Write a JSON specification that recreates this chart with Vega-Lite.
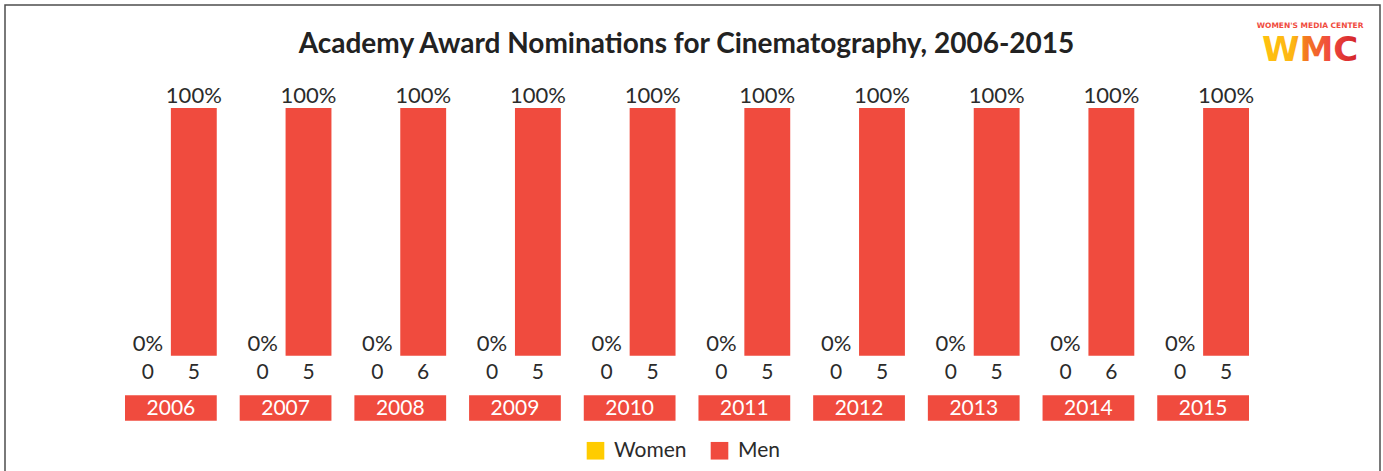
{
  "$schema": "https://vega.github.io/schema/vega-lite/v6.json",
  "autosize": {"type": "none"},
  "width": 1375,
  "height": 470,
  "padding": {"left": 5, "top": 5, "right": 3, "bottom": 0},
  "background": "white",
  "config": {
    "font": "Lato",
    "view": {"stroke": "#4d4d4d", "strokeWidth": 1.5},
    "text": {"font": "Lato", "color": "#2b2b2b"}
  },
  "title": {
    "text": "Academy Award Nominations for Cinematography, 2006-2015",
    "font": "Lato",
    "fontSize": 28,
    "fontWeight": "bold",
    "color": "#222222",
    "anchor": "middle",
    "frame": "group",
    "offset": -54,
    "dx": -6
  },
  "data": {
    "values": [
      {"year": "2006", "gender": "Women", "count": 0, "pct": 0},
      {"year": "2006", "gender": "Men", "count": 5, "pct": 1},
      {"year": "2007", "gender": "Women", "count": 0, "pct": 0},
      {"year": "2007", "gender": "Men", "count": 5, "pct": 1},
      {"year": "2008", "gender": "Women", "count": 0, "pct": 0},
      {"year": "2008", "gender": "Men", "count": 6, "pct": 1},
      {"year": "2009", "gender": "Women", "count": 0, "pct": 0},
      {"year": "2009", "gender": "Men", "count": 5, "pct": 1},
      {"year": "2010", "gender": "Women", "count": 0, "pct": 0},
      {"year": "2010", "gender": "Men", "count": 5, "pct": 1},
      {"year": "2011", "gender": "Women", "count": 0, "pct": 0},
      {"year": "2011", "gender": "Men", "count": 5, "pct": 1},
      {"year": "2012", "gender": "Women", "count": 0, "pct": 0},
      {"year": "2012", "gender": "Men", "count": 5, "pct": 1},
      {"year": "2013", "gender": "Women", "count": 0, "pct": 0},
      {"year": "2013", "gender": "Men", "count": 5, "pct": 1},
      {"year": "2014", "gender": "Women", "count": 0, "pct": 0},
      {"year": "2014", "gender": "Men", "count": 6, "pct": 1},
      {"year": "2015", "gender": "Women", "count": 0, "pct": 0},
      {"year": "2015", "gender": "Men", "count": 5, "pct": 1}
    ]
  },
  "layer": [
    {
      "mark": {"type": "bar"},
      "encoding": {
        "x": {
          "field": "year", "type": "nominal", "axis": null,
          "scale": {"range": [120, 1244], "paddingInner": 0.2, "paddingOuter": 0, "round": false}
        },
        "xOffset": {
          "field": "gender", "type": "nominal",
          "sort": ["Women", "Men"],
          "scale": {"paddingInner": 0, "paddingOuter": 0}
        },
        "y": {
          "field": "pct", "type": "quantitative", "axis": null,
          "scale": {"domain": [-0.4816, 1.4159], "nice": false, "zero": false}
        },
        "color": {
          "field": "gender", "type": "nominal",
          "sort": ["Women", "Men"],
          "scale": {"domain": ["Women", "Men"], "range": ["#FFCC00", "#F04B3E"]},
          "legend": {
            "title": null,
            "orient": "none",
            "legendX": 580,
            "legendY": 435,
            "direction": "horizontal",
            "symbolType": "square",
            "symbolSize": 310,
            "symbolStrokeWidth": 0,
            "symbolOpacity": 1,
            "labelFont": "Lato",
            "labelFontSize": 21,
            "labelColor": "#2b2b2b",
            "labelOffset": 8,
            "columnPadding": 22
          }
        }
      }
    },
    {
      "transform": [{"filter": "datum.gender === 'Men'"}],
      "mark": {"type": "bar", "color": "#F04B3E"},
      "encoding": {
        "x": {"field": "year", "type": "nominal"},
        "y": {"datum": -0.16},
        "y2": {"datum": -0.2624}
      }
    },
    {
      "mark": {"type": "text", "baseline": "alphabetic", "dy": -5, "fontSize": 22, "color": "#2b2b2b"},
      "encoding": {
        "x": {"field": "year", "type": "nominal"},
        "xOffset": {"field": "gender", "type": "nominal", "sort": ["Women", "Men"]},
        "y": {"field": "pct", "type": "quantitative"},
        "text": {"field": "pct", "type": "quantitative", "format": ".0%"}
      }
    },
    {
      "mark": {"type": "text", "baseline": "alphabetic", "fontSize": 21, "color": "#2b2b2b"},
      "encoding": {
        "x": {"field": "year", "type": "nominal"},
        "xOffset": {"field": "gender", "type": "nominal", "sort": ["Women", "Men"]},
        "y": {"datum": -0.0953},
        "text": {"field": "count", "type": "quantitative"}
      }
    },
    {
      "transform": [{"filter": "datum.gender === 'Men'"}],
      "mark": {"type": "text", "baseline": "alphabetic", "fontSize": 21, "color": "white"},
      "encoding": {
        "x": {"field": "year", "type": "nominal"},
        "y": {"datum": -0.2394},
        "text": {"field": "year", "type": "nominal"}
      }
    },
    {
      "data": {"values": [{"label": "WOMEN'S MEDIA CENTER"}]},
      "mark": {"type": "text", "baseline": "alphabetic", "font": "DejaVu Sans", "fontWeight": "bold", "fontSize": 7.5, "color": "#F04B3E", "dx": 107},
      "encoding": {
        "x": {"datum": "2015"},
        "y": {"datum": 1.322},
        "text": {"field": "label", "type": "nominal"}
      }
    },
    {
      "data": {"values": [{"label": "WMC"}]},
      "mark": {
        "type": "text", "baseline": "alphabetic", "font": "DejaVu Sans", "fontWeight": "bold", "fontSize": 34, "dx": 107,
        "fill": {
          "gradient": "linear", "x1": 0, "x2": 1, "y1": 0, "y2": 0,
          "stops": [
            {"offset": 0, "color": "#FFC20E"},
            {"offset": 0.33, "color": "#FDB515"},
            {"offset": 0.45, "color": "#F47B20"},
            {"offset": 0.7, "color": "#F04B3E"},
            {"offset": 1, "color": "#D2232A"}
          ]
        }
      },
      "encoding": {
        "x": {"datum": "2015"},
        "y": {"datum": 1.1897},
        "text": {"field": "label", "type": "nominal"}
      }
    }
  ]
}
